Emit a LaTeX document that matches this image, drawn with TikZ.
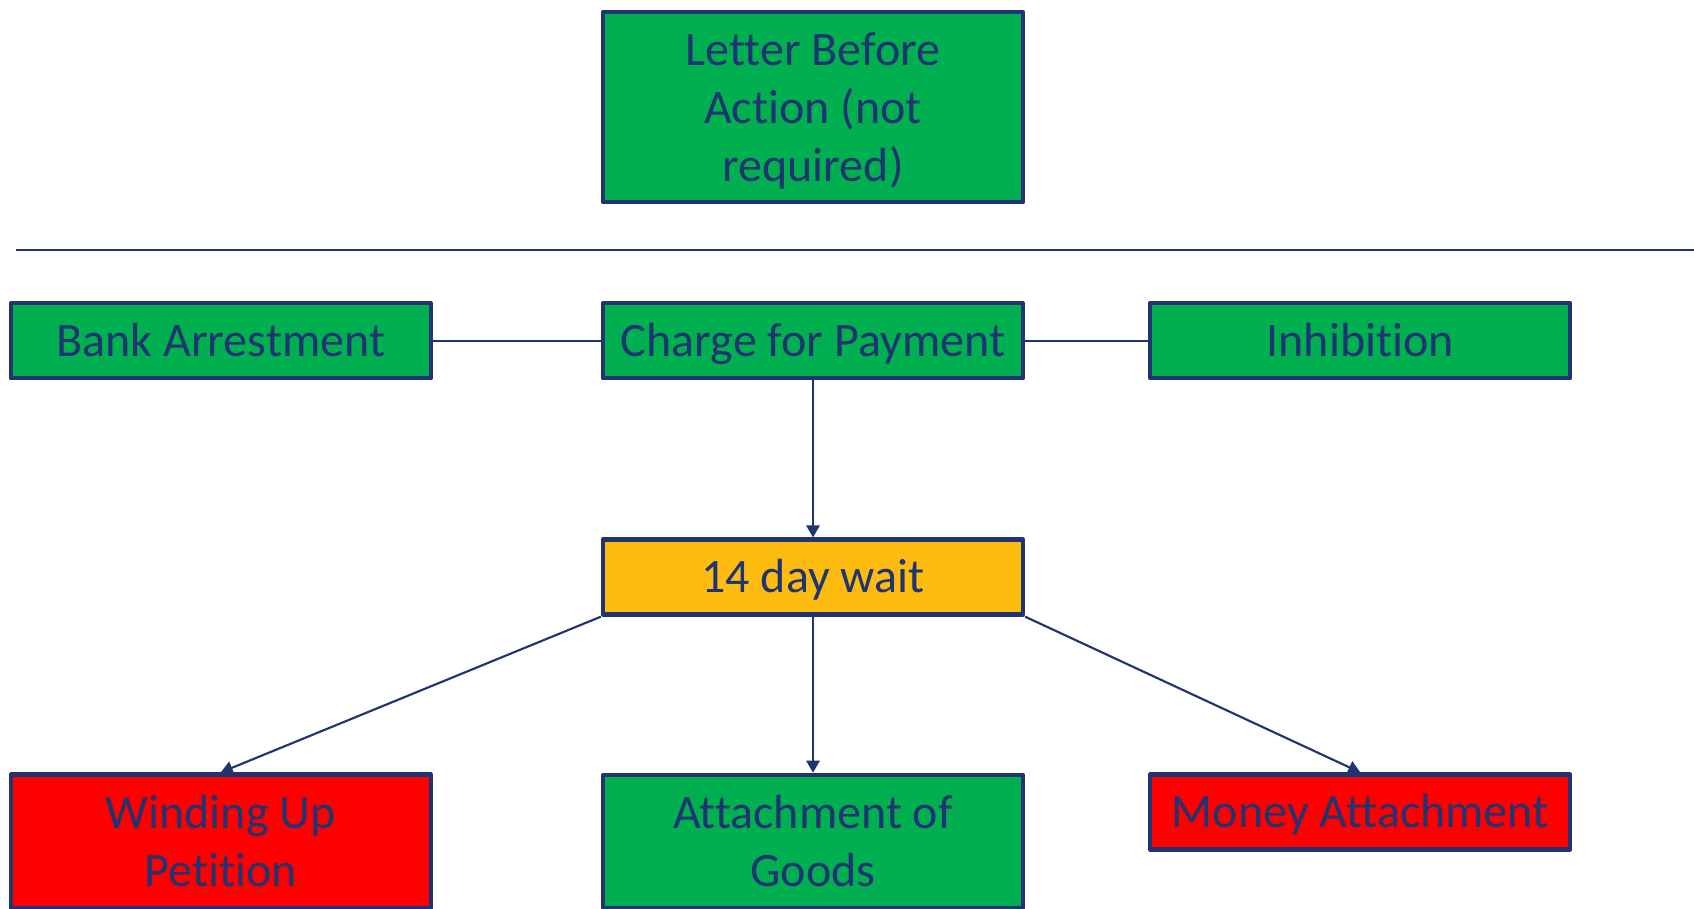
\documentclass[tikz,border=0pt]{standalone}
\usepackage{fontspec}
\setmainfont{Carlito}[Ligatures=NoCommon]
\usetikzlibrary{arrows.meta, positioning}

\definecolor{navy}{HTML}{1F3470}
\definecolor{okgreen}{HTML}{00B050}
\definecolor{stopred}{HTML}{FF0000}
\definecolor{waitamber}{HTML}{FFBC10}

\begin{document}
\begin{tikzpicture}[
    font=\fontsize{36pt}{43.5pt}\selectfont,
    box/.style={
      draw=navy, line width=3.2pt, text=navy,
      minimum width=315pt, minimum height=56.25pt,
      align=center, inner sep=2pt, line join=round
    },
    flat/.style={box, text height=30pt, text depth=7pt},
    link/.style={draw=navy, line width=1.2pt},
    arr/.style={-{Triangle[length=9pt, width=10pt]}, draw=navy, line width=1.6pt}
  ]
  \useasboundingbox (0pt,0pt) rectangle (1270.5pt,-681pt);
  \node[box, fill=okgreen, minimum height=142.5pt] (letter) at (609.75pt,-80.25pt) {\rule{0pt}{30pt}Letter Before\\Action (not\\required)};
  \draw[navy, line width=1.5pt] (12pt,-187.5pt) -- (1270.5pt,-187.5pt);
  \node[flat, fill=okgreen, below=72.75pt of letter] (charge) {Charge for Payment};
  \node[flat, fill=okgreen, left=126pt of charge]    (bank)   {Bank Arrestment};
  \node[flat, fill=okgreen, right=92.25pt of charge] (inhib)  {Inhibition};
  \node[flat, fill=waitamber, below=117.75pt of charge] (wait) {14 day wait};
  \node[box, fill=stopred, minimum height=100pt, below=294pt of bank] (winding) {Winding Up\\Petition};
  \node[box, fill=okgreen, minimum height=100pt, below=117pt of wait] (goods) {Attachment of\\Goods};
  \node[flat, fill=stopred, below=294pt of inhib] (money) {Money Attachment};
  \draw[link] (bank) -- (charge);
  \draw[link] (charge) -- (inhib);
  \draw[arr] (charge) -- (wait);
  \draw[arr] (wait.south west) -- (winding.north);
  \draw[arr] (wait) -- (goods);
  \draw[arr] (wait.south east) -- (money.north);
\end{tikzpicture}
\end{document}
